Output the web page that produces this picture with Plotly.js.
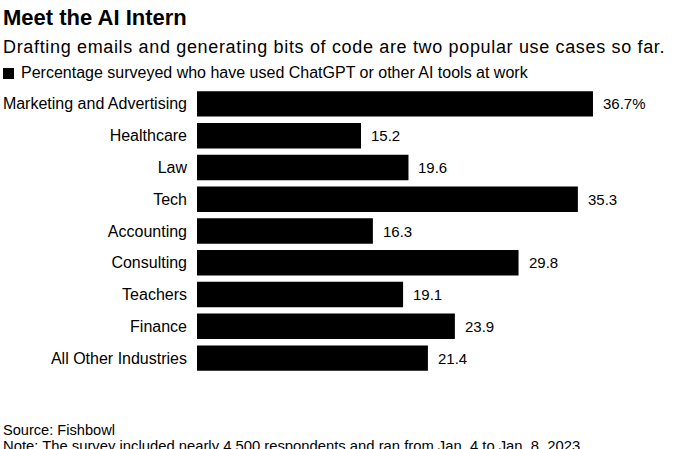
<!DOCTYPE html>
<html><head><meta charset="utf-8">
<script src="https://cdn.plot.ly/plotly-3.0.1.min.js"></script>
<style>html,body{margin:0;padding:0;background:#fff}#chart{width:676px;height:449px}
.annotation[data-index="1"] text{letter-spacing:0.66px}
</style>
</head><body><div id="chart"></div>
<script>
const categories = ["Marketing and Advertising","Healthcare","Law","Tech","Accounting","Consulting","Teachers","Finance","All Other Industries"];
const values = [36.7, 15.2, 19.6, 35.3, 16.3, 29.8, 19.1, 23.9, 21.4];
const valueLabels = ["36.7%","15.2","19.6","35.3","16.3","29.8","19.1","23.9","21.4"];

const W = 676, H = 449;
const L = 197, R = 0, T = 88, B = 75;
const pw = W - L - R, ph = H - T - B;
const px = x => (x - L) / pw;
const py = y => (H - B - y) / ph;
const FONT = "Liberation Sans, Arial, sans-serif";

const annotations = [
  {text:"<b>Meet the AI Intern</b>", x:px(1), y:py(18), font:{size:22,color:"#000"}},
  {text:"Drafting emails and generating bits of code are two popular use cases so far.", x:px(1), y:py(47), font:{size:18,color:"#000"}},
  {text:"Percentage surveyed who have used ChatGPT or other AI tools at work", x:px(19), y:py(73), font:{size:16,color:"#000"}},
  {text:"Source: Fishbowl", x:px(1), y:py(430), font:{size:14.6,color:"#000"}},
  {text:"Note: The survey included nearly 4,500 respondents and ran from Jan. 4 to Jan. 8, 2023.", x:px(1), y:py(446), font:{size:14.8,color:"#000"}}
].map(a => Object.assign({xref:"paper", yref:"paper", xanchor:"left", yanchor:"middle", showarrow:false, align:"left"}, a));

categories.forEach((c, i) => {
  annotations.push({x: values[i], y: c, xref:"x", yref:"y", text: valueLabels[i], showarrow:false,
    xanchor:"left", yanchor:"middle", xshift:8, font:{size:15, color:"#000"}});
});

const trace = {
  type:"bar", orientation:"h", x: values, y: categories,
  marker:{color:"#000", line:{width:0}}, hoverinfo:"skip", showlegend:false
};

const layout = {
  width:W, height:H, margin:{l:L, r:R, t:T, b:B, pad:0},
  paper_bgcolor:"#fff", plot_bgcolor:"#fff",
  font:{family:FONT, color:"#000", size:15},
  bargap:0.2,
  xaxis:{range:[0, pw/10.79], visible:false, fixedrange:true},
  yaxis:{autorange:"reversed", type:"category", showgrid:false, zeroline:false, showline:false,
         ticks:"", ticklabelstandoff:9, tickfont:{size:16, color:"#000"}, fixedrange:true},
  shapes:[{type:"rect", xref:"paper", yref:"paper", x0:px(3), x1:px(14), y0:py(79), y1:py(68),
           fillcolor:"#000", line:{width:0}}],
  annotations: annotations
};
Plotly.newPlot("chart", [trace], layout, {displayModeBar:false, staticPlot:true});
</script></body></html>
